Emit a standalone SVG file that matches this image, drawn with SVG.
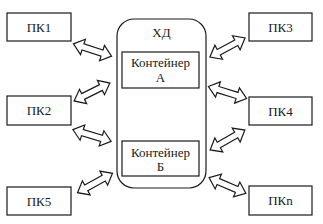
<svg xmlns="http://www.w3.org/2000/svg" width="323" height="224" viewBox="0 0 323 224">
<style>
.box{fill:#fff;stroke:#1a1a1a;stroke-width:1.2}
.t{font-family:"Liberation Serif","Times New Roman",serif;font-size:13px;fill:#1a1a1a;text-anchor:middle}
.arr{fill:#fff;stroke:#1a1a1a;stroke-width:1.2;stroke-linejoin:miter}
</style>
<defs>
<polygon id="dbl" points="-20,0 -10,-8 -10,-3.2 10,-3.2 10,-8 20,0 10,8 10,3.2 -10,3.2 -10,8"/>
</defs>
<rect width="323" height="224" fill="#fff"/>
<g id="hd">
<rect class="box" x="117" y="19" width="89" height="169" rx="17" ry="17"/>
<text class="t" x="161.5" y="37">ХД</text>
</g>
<g id="contA">
<rect class="box" x="122" y="52" width="77" height="36"/>
<text class="t" x="160.5" y="67">Контейнер</text>
<text class="t" x="160.5" y="82">А</text>
</g>
<g id="contB">
<rect class="box" x="122" y="141" width="77" height="35"/>
<text class="t" x="160.5" y="157">Контейнер</text>
<text class="t" x="160.5" y="171">Б</text>
</g>
<g id="pk1"><rect class="box" x="7" y="13" width="64" height="28"/><text class="t" x="39" y="31.5">ПК1</text></g>
<g id="pk2"><rect class="box" x="7" y="96" width="64" height="29"/><text class="t" x="39" y="115">ПК2</text></g>
<g id="pk5"><rect class="box" x="7" y="187" width="64" height="28"/><text class="t" x="39" y="205.5">ПК5</text></g>
<g id="pk3"><rect class="box" x="249" y="13" width="63" height="28"/><text class="t" x="280.5" y="31.5">ПК3</text></g>
<g id="pk4"><rect class="box" x="249" y="97" width="63" height="28"/><text class="t" x="280.5" y="115.5">ПК4</text></g>
<g id="pkn"><rect class="box" x="249" y="186" width="63" height="29"/><text class="t" x="280.5" y="205">ПКn</text></g>
<g id="connectors" class="arr">
<use href="#dbl" transform="translate(92.5,50) rotate(18)"/>
<use href="#dbl" transform="translate(92,92) rotate(-26.6)"/>
<use href="#dbl" transform="translate(92,135.5) rotate(17)"/>
<use href="#dbl" transform="translate(95,183) rotate(-29)"/>
<use href="#dbl" transform="translate(227.5,47.5) rotate(-28.5)"/>
<use href="#dbl" transform="translate(227.5,92.5) rotate(17.4)"/>
<use href="#dbl" transform="translate(227.5,140) rotate(-29.7)"/>
<use href="#dbl" transform="translate(227.5,185.5) rotate(23.2)"/>
</g>
</svg>
